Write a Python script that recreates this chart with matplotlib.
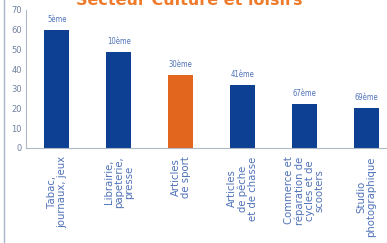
import numpy as np
import matplotlib.pyplot as plt

# Donnees
categories = ['Tabac,\njournaux, jeux', 'Librairie,\npapeterie,\npresse',
              'Articles\nde sport', 'Articles\nde pêche\net de chasse',
              'Commerce et\nréparation de\ncycles et de\nscooters',
              'Studio\nphotographique']
values = [60, 48.5, 37, 32, 22.5, 20.5]
ranks = ['5ème', '10ème', '30ème', '41ème', '67ème', '69ème']
highlight = 2

navy = '#0d3f92'
orange = '#e2661e'
txt = '#4f72b8'

fig = plt.figure(figsize=(3.87, 2.43), dpi=100)
ax = fig.add_axes([0.067, 0.391, 0.959, 0.568])

x = np.arange(len(values))
colors = [orange if i == highlight else navy for i in x]
ax.bar(x, values, width=0.4, color=colors)
for xi, v, r in zip(x, values, ranks):
    ax.text(xi, v + 3, r, ha='center', va='bottom', fontsize=5.5,
            color=txt, fontstretch='condensed')

ax.set_xlim(-0.5, 5.5)
ax.set_ylim(0, 70)
ax.set_yticks(range(0, 71, 10))
ax.set_xticks(x)
ax.set_xticklabels(categories, rotation=90, ha='center', va='top',
                   multialignment='center', fontsize=7.3, color=txt,
                   linespacing=1.0)
ax.tick_params(axis='y', labelsize=6, colors='#7080a0', length=0, pad=3)
ax.tick_params(axis='x', length=0, pad=6)
for s in ['top', 'right']:
    ax.spines[s].set_visible(False)
ax.spines['left'].set_color('#b0b8c8')
ax.spines['bottom'].set_color('#b0b8c8')

fig.text(0.49, 1 - 5 / 243, 'Secteur Culture et loisirs', ha='center',
         va='baseline', fontsize=11.5, fontweight='bold', color='#ee7a2a')
fig.add_artist(plt.Line2D([0.01, 0.01], [0, 1], color='#a8b4c8', lw=1))

fig.savefig('out.png', dpi=100)
